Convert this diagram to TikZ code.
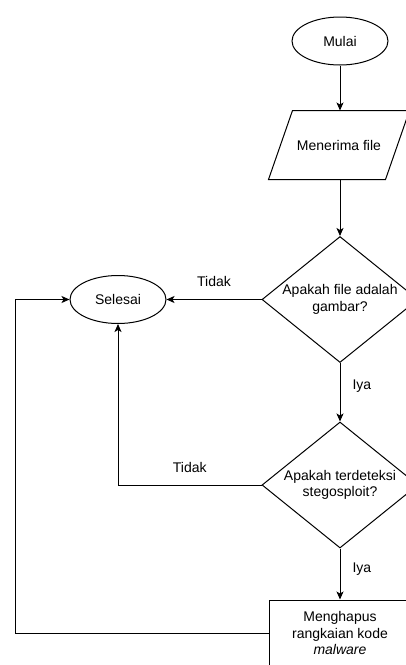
\documentclass[tikz,border=0pt]{standalone}
\usepackage{fontspec}
\setmainfont{Liberation Sans}
\usetikzlibrary{arrows.meta,shapes.geometric,positioning}

\begin{document}
\begin{tikzpicture}[
    x=1pt,
    y=-1pt,
    line width=1pt,
    every node/.style={inner sep=2pt, font=\fontsize{14}{16.5}\selectfont},
    terminal/.style={draw, ellipse, minimum width=96pt, minimum height=48pt},
    masukan/.style={rectangle, minimum width=116pt, minimum height=68pt},
    keputusan/.style={draw, diamond, inner sep=0pt, minimum width=156pt, minimum height=126pt},
    proses/.style={draw, rectangle, align=center, minimum width=142pt, minimum height=66pt},
    panah/.style={-{Stealth[length=8pt,width=7pt,inset=2pt]}}
]
\useasboundingbox (0,0) rectangle (406,665);
\clip (0,0) rectangle (406,665);


% Main column
\node[terminal] (mulai) at (340,41) {Mulai};
\node[masukan] (terima) at (339,145) {Menerima file};
\node[keputusan] (cek1) at (340,299.5)
    [label={[name=cek1teks, align=center]center:Apakah file adalah\\gambar?}] {};
\node[keputusan] (cek2) at (340,485)
    [label={[name=cek2teks, align=center]center:Apakah terdeteksi\\stegosploit?}] {};
\node[proses] (hapus) at (340,633) {Menghapus\\rangkaian kode\\\textit{malware}};

% slanted input box
\draw ([xshift=12pt]terima.north west) -- ([xshift=12pt]terima.north east)
   -- ([xshift=-12pt]terima.south east) -- ([xshift=-12pt]terima.south west) -- cycle;


% End
\node[terminal] (selesai) at (118,299.5) {Selesai};
\coordinate (kiri) at (15,633);


% Connectors
\draw[panah] (mulai) -- (mulai |- terima.north);
\draw[panah] (mulai |- terima.south) -- (cek1);

\draw[panah] (cek1) -- node[above=10pt] {Tidak} (selesai);
\draw[panah] (cek1) -- node[pos=0.4, right=10pt] {Iya} (cek2);

\draw[panah] (cek2.west) -| node[pos=0.25, above=10pt] {Tidak} (selesai.south);
\draw[panah] (cek2) -- node[pos=0.4, right=10pt] {Iya} (hapus);

\draw[panah] (hapus.west) -- (kiri) |- (selesai.west);


\end{tikzpicture}
\end{document}
